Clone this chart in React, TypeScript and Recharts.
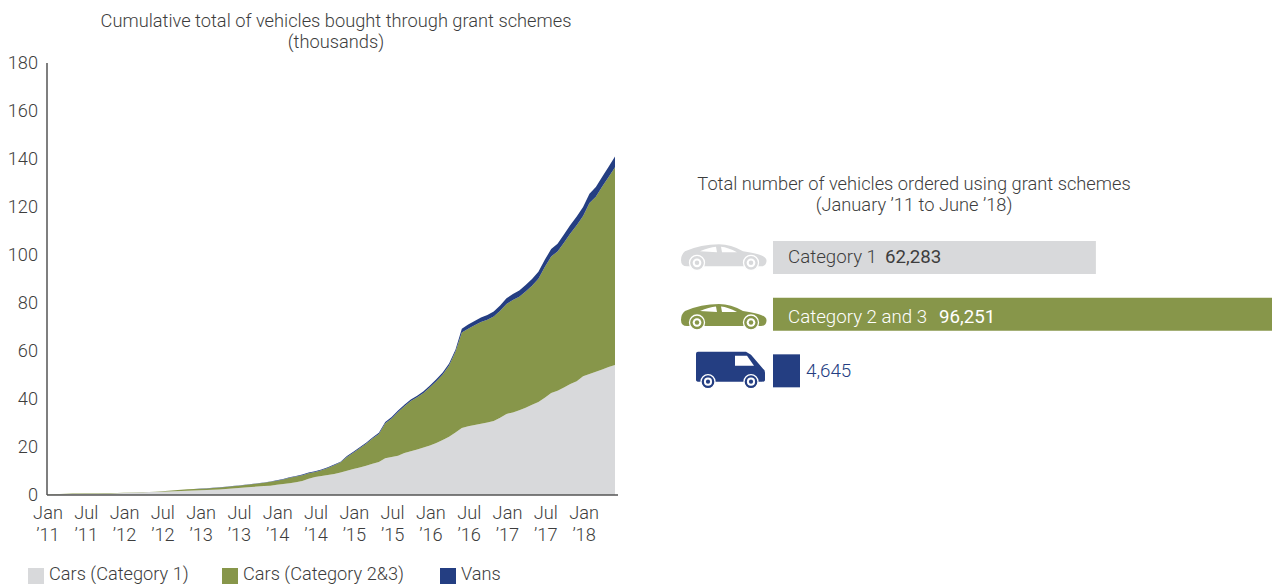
import React from "react";
import { AreaChart, Area, BarChart, Bar, Cell, LabelList, Legend, XAxis, YAxis } from "recharts";

const FONT = "Roboto, 'Liberation Sans', sans-serif";
const GREY = "#d8d9db";
const GREEN = "#87964a";
const BLUE = "#243e82";
const TEXT = "#3d3d3d";

// monthly cumulative totals in thousands, Jan '11 to Jun '18
const carsCat1 = [
  0.1, 0.2, 0.3, 0.3, 0.4, 0.4, 0.5, 0.5, 0.5, 0.6, 0.6, 0.7,
  0.8, 0.9, 1.0, 1.1, 1.2, 1.3, 1.4, 1.5, 1.6, 1.7, 1.8, 1.9,
  2.0, 2.1, 2.2, 2.3, 2.5, 2.7, 2.9, 3.1, 3.3, 3.5, 3.7, 3.9,
  4.3, 4.6, 4.9, 5.3, 5.8, 6.8, 7.5, 7.9, 8.3, 8.8, 9.4, 10.1,
  10.8, 11.5, 12.2, 13.0, 13.8, 15.3, 15.8, 16.4, 17.5, 18.2, 19.0, 19.8,
  20.6, 21.7, 22.9, 24.3, 26.0, 27.9, 28.6, 29.2, 29.7, 30.2, 30.8, 32.2,
  33.8, 34.4, 35.3, 36.4, 37.6, 38.8, 40.5, 42.5, 43.4, 44.8, 46.2, 47.4,
  49.5, 50.4, 51.4, 52.3, 53.3, 54.2,
];
const carsCat23 = [
  0.1, 0.1, 0.1, 0.2, 0.2, 0.2, 0.2, 0.2, 0.2, 0.2, 0.2, 0.1,
  0.1, 0.1, 0.1, 0.1, 0.1, 0.1, 0.2, 0.3, 0.4, 0.5, 0.6, 0.6,
  0.6, 0.6, 0.7, 0.8, 0.8, 0.9, 1.0, 1.1, 1.2, 1.3, 1.4, 1.6,
  1.6, 1.9, 2.3, 2.4, 2.4, 2.3, 2.1, 2.4, 3.0, 3.6, 4.2, 5.7,
  6.8, 8.0, 9.2, 10.5, 11.6, 14.6, 16.1, 18.2, 19.5, 21.0, 21.7, 22.7,
  24.3, 25.7, 27.3, 29.7, 33.7, 39.8, 40.7, 41.5, 42.4, 42.8, 43.6, 44.6,
  45.8, 46.8, 47.3, 48.4, 49.6, 51.3, 54.5, 56.9, 58.1, 60.3, 62.8, 65.0,
  66.8, 71.3, 72.9, 76.2, 79.2, 82.4,
];
const vans = [
  0, 0, 0, 0, 0, 0, 0, 0, 0, 0, 0, 0,
  0, 0, 0, 0, 0, 0, 0, 0, 0, 0, 0, 0,
  0.1, 0.1, 0.1, 0.1, 0.1, 0.1, 0.1, 0.1, 0.1, 0.1, 0.1, 0.1,
  0.2, 0.2, 0.2, 0.2, 0.3, 0.3, 0.3, 0.3, 0.3, 0.3, 0.3, 0.4,
  0.4, 0.4, 0.4, 0.5, 0.5, 0.5, 0.6, 0.6, 0.6, 0.6, 0.7, 0.7,
  0.7, 0.8, 0.8, 0.8, 0.8, 1.6, 1.7, 1.8, 1.9, 2.0, 2.1, 2.2,
  2.4, 2.5, 2.6, 2.7, 2.8, 2.9, 3.0, 3.1, 3.2, 3.4, 3.5, 3.6,
  3.7, 3.8, 4.0, 4.1, 4.3, 4.4,
];

const monthTicks = [0, 6, 12, 18, 24, 30, 36, 42, 48, 54, 60, 66, 72, 78, 84];
const monthLabels = ["Jan", "Jul", "Jan", "Jul", "Jan", "Jul", "Jan", "Jul", "Jan", "Jul", "Jan", "Jul", "Jan", "Jul", "Jan"];
const yearLabels = ["’11", "’11", "’12", "’12", "’13", "’13", "’14", "’14", "’15", "’15", "’16", "’16", "’17", "’17", "’18"];
const yTicks = [0, 20, 40, 60, 80, 100, 120, 140, 160, 180];

const totalNames = ["Category 1", "Category 2 and 3", "Vans"];
const totalValues = [62283, 96251, 4645];
const totalColors = [GREY, GREEN, BLUE];

const areaData = carsCat1.map((v, i) => ({ month: i, cat1: v, cat23: carsCat23[i], vans: vans[i] }));
const barData = totalNames.map((name, i) => ({ name, value: totalValues[i] }));

const legendOffsets = [28, 222, 440];
const iconShift = [0, 3, 0];

function MonthTick({ x, y, payload }: any) {
  const i = monthTicks.indexOf(payload.value);
  return (
    <text x={x + 1} y={y} textAnchor="middle" fontFamily={FONT} fontWeight={300} fontSize={18.2} fill={TEXT}>
      <tspan x={x + 1} dy={16}>{monthLabels[i]}</tspan>
      <tspan x={x + 1} dy={21.5}>{yearLabels[i]}</tspan>
    </text>
  );
}

function AreaLegend({ payload }: any) {
  return (
    <div style={{ position: "relative", width: 640, height: 16 }}>
      {(payload || []).map((item: any, i: number) => (
        <div key={item.value} style={{ position: "absolute", left: legendOffsets[i], top: 0, display: "flex", alignItems: "flex-start", whiteSpace: "nowrap" }}>
          <span style={{ width: 16, height: 16, background: item.color, marginRight: 5 }} />
          <span style={{ fontFamily: FONT, fontWeight: 300, fontSize: 18.2, color: TEXT, lineHeight: "16px", marginTop: -2 }}>{item.value}</span>
        </div>
      ))}
    </div>
  );
}

function VehicleIcon({ y, payload }: any) {
  const i = totalNames.indexOf(payload.value);
  const color = totalColors[i];
  const wheel = (cx: number, cy: number, r: number) => (
    <g key={cx}>
      <circle cx={cx} cy={cy} r={r} fill={color} stroke="#fff" strokeWidth={1.3} />
      <circle cx={cx} cy={cy} r={r * 0.58} fill="#fff" />
      <circle cx={cx} cy={cy} r={r * 0.3} fill={color} />
    </g>
  );
  if (i === 2) {
    return (
      <g transform={`translate(11,${y})`}>
        <path d="M15 -17 Q15 -19 17 -19 L65 -19 L70 -16 L82 -2 Q84 -1 84 2 L84 9 Q84 11 81 11 L18 11 Q15 11 15 9 Z" fill={color} />
        <path d="M54 -15 L66 -15 L73 -5 L54 -5 Z" fill="#fff" />
        {wheel(27, 11, 7)}
        {wheel(70, 11, 7)}
      </g>
    );
  }
  return (
    <g transform={`translate(11,${y + iconShift[i]})`}>
      <path d="M0 3 Q0 -3 4 -6 Q20 -13 38 -13 Q50 -13 62 -6 Q75 -4 80 -2 Q86 0 85.5 4 Q85 9 80 9 L6 9 Q0 9 0 3 Z" fill={color} />
      <path d="M19 -6 Q28 -10 35 -10.5 L36 -5 Z M40 -10.5 Q47 -10 56 -5 L41 -5 Z" fill="#fff" />
      {wheel(16, 5.5, 7.5)}
      {wheel(70, 5.5, 7.5)}
    </g>
  );
}

function BarText({ x, y, width, height, index }: any) {
  const midY = y + height / 2 + 6;
  const value = totalValues[index].toLocaleString("en-GB");
  if (index === 2) {
    return (
      <text x={x + width + 6} y={midY} fontFamily={FONT} fontWeight={300} fontSize={18.8} fill={BLUE}>{value}</text>
    );
  }
  const fill = index === 1 ? "#fff" : TEXT;
  return (
    <text x={x + 15} y={midY + (index === 1 ? 3 : -1)} fontFamily={FONT} fontSize={18.7} fill={fill}>
      <tspan fontWeight={300}>{totalNames[index]}</tspan>
      <tspan dx={index === 1 ? 12 : 8} fontWeight={400}>{value}</tspan>
    </text>
  );
}

function Heading({ left, top, width, lines }: { left: number; top: number; width: number; lines: string[] }) {
  return (
    <div style={{ position: "absolute", left, top, width, textAlign: "center", fontFamily: FONT, fontWeight: 300, fontSize: 18.25, lineHeight: "21px", color: TEXT }}>
      {lines.map((l) => <div key={l}>{l}</div>)}
    </div>
  );
}

export default function App() {
  return (
    <div style={{ position: "absolute", left: 0, top: 0, width: 1272, height: 584, overflow: "hidden", background: "#fff" }}>
      <Heading left={36} top={10} width={600} lines={["Cumulative total of vehicles bought through grant schemes", "(thousands)"]} />
      <Heading left={614} top={173} width={600} lines={["Total number of vehicles ordered using grant schemes", "(January ’11 to June ’18)"]} />

      <div style={{ position: "absolute", left: 0, top: 0 }}>
        <AreaChart width={640} height={584} data={areaData} margin={{ top: 63, right: 22, bottom: 0, left: 0 }}>
          <XAxis
            dataKey="month"
            type="number"
            domain={[0, 89.47]}
            ticks={monthTicks}
            tick={<MonthTick />}
            tickLine={false}
            axisLine={{ stroke: "#555", strokeWidth: 1.5 }}
            interval={0}
            height={89}
          />
          <YAxis
            type="number"
            domain={[0, 180]}
            ticks={yTicks}
            width={47}
            tickLine={false}
            tickMargin={3}
            axisLine={{ stroke: "#555", strokeWidth: 1.5 }}
            tick={{ fontFamily: FONT, fontWeight: 300, fontSize: 18.2, fill: TEXT }}
            interval={0}
          />
          <Legend
            content={<AreaLegend />}
            layout="horizontal"
            verticalAlign="middle"
            wrapperStyle={{ top: 568, left: 0, width: 640 }}
          />
          <Area dataKey="cat1" name="Cars (Category 1)" stackId="a" type="linear" fill={GREY} stroke="none" fillOpacity={1} dot={false} isAnimationActive={false} />
          <Area dataKey="cat23" name="Cars (Category 2&3)" stackId="a" type="linear" fill={GREEN} stroke="none" fillOpacity={1} dot={false} isAnimationActive={false} />
          <Area dataKey="vans" name="Vans" stackId="a" type="linear" fill={BLUE} stroke="none" fillOpacity={1} dot={false} isAnimationActive={false} />
        </AreaChart>
      </div>

      <div style={{ position: "absolute", left: 670, top: 229 }}>
        <BarChart width={602} height={170} data={barData} layout="vertical" margin={{ top: 0, right: 0, bottom: 0, left: 0 }}>
          <XAxis type="number" domain={[0, 96251]} hide />
          <YAxis type="category" dataKey="name" width={103} axisLine={false} tickLine={false} tick={<VehicleIcon />} interval={0} />
          <Bar dataKey="value" barSize={33} minPointSize={27} isAnimationActive={false}>
            {barData.map((d, i) => <Cell key={d.name} fill={totalColors[i]} />)}
            <LabelList dataKey="value" content={<BarText />} />
          </Bar>
        </BarChart>
      </div>
    </div>
  );
}
